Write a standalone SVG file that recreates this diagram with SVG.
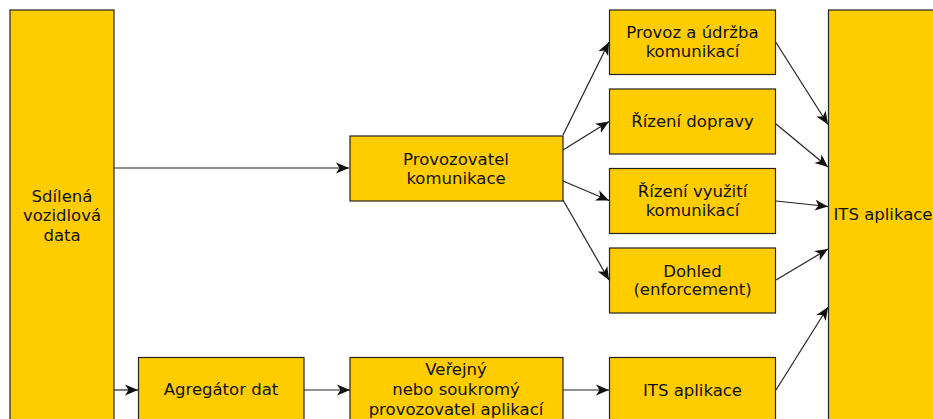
<svg xmlns="http://www.w3.org/2000/svg" width="933" height="419" viewBox="0 0 933 419">
<style>
.box{fill:#FFCC00;stroke:#222;stroke-width:1.2}
.t{font-family:"DejaVu Sans",sans-serif;font-size:16.5px;fill:#111;text-anchor:middle}
.c{fill:none;stroke:#222;stroke-width:1.2;marker-end:url(#ah)}
</style>
<defs>
<marker id="ah" markerUnits="userSpaceOnUse" markerWidth="14" markerHeight="12" viewBox="0 0 14 12" refX="13" refY="6" orient="auto">
<path d="M0,0.5 L13,6 L0,11.5 L3.5,6 z" fill="#111"/>
</marker>
</defs>
<rect width="933" height="419" fill="#fff"/>
<g id="connectors">
<path class="c" d="M114,168 L349,168"/>
<path class="c" d="M114,390 L138,390"/>
<path class="c" d="M304,390 L350,390"/>
<path class="c" d="M563,390 L609,390"/>
<path class="c" d="M563,135 L609,42"/>
<path class="c" d="M563,150 L609,121.5"/>
<path class="c" d="M563,181 L609,200.5"/>
<path class="c" d="M563,200 L609,280"/>
<path class="c" d="M776,42.5 L828,124.5"/>
<path class="c" d="M776,124 L828,167"/>
<path class="c" d="M776,201 L828,206.5"/>
<path class="c" d="M776,280 L828,249"/>
<path class="c" d="M776,390 L828,307"/>
</g>
<g id="sdilena">
<rect class="box" x="10" y="10" width="104" height="420"/>
<text class="t" x="62" y="201.5">Sdílená</text>
<text class="t" x="62" y="221">vozidlová</text>
<text class="t" x="62" y="240.5">data</text>
</g>
<g id="provozovatel">
<rect class="box" x="350" y="136" width="213" height="65"/>
<text class="t" x="456" y="164.5">Provozovatel</text>
<text class="t" x="456" y="183.5">komunikace</text>
</g>
<g id="provoz">
<rect class="box" x="609.5" y="10" width="166" height="64.5"/>
<text class="t" x="692.5" y="38.3">Provoz a údržba</text>
<text class="t" x="692.5" y="57.3">komunikací</text>
</g>
<g id="rizeni-dopravy">
<rect class="box" x="609.5" y="89" width="166" height="65"/>
<text class="t" x="692.5" y="127.3">Řízení dopravy</text>
</g>
<g id="rizeni-vyuziti">
<rect class="box" x="609.5" y="168.5" width="166" height="65"/>
<text class="t" x="692.5" y="196.7">Řízení využití</text>
<text class="t" x="692.5" y="215.7">komunikací</text>
</g>
<g id="dohled">
<rect class="box" x="609.5" y="248" width="166" height="65"/>
<text class="t" x="692.5" y="276.7">Dohled</text>
<text class="t" x="692.5" y="295.3">(enforcement)</text>
</g>
<g id="its-small">
<rect class="box" x="609.5" y="357.5" width="166" height="65"/>
<text class="t" x="692.5" y="395.7">ITS aplikace</text>
</g>
<g id="agregator">
<rect class="box" x="138.5" y="357.5" width="165.5" height="70"/>
<text class="t" x="221" y="395.3">Agregátor dat</text>
</g>
<g id="verejny">
<rect class="box" x="350" y="357.5" width="213" height="70"/>
<text class="t" x="456" y="375.3">Veřejný</text>
<text class="t" x="456" y="395.3">nebo soukromý</text>
<text class="t" x="456" y="414.5">provozovatel aplikací</text>
</g>
<g id="its-big">
<rect class="box" x="828.5" y="10" width="120" height="420"/>
<text class="t" x="883" y="220">ITS aplikace</text>
</g>
</svg>
